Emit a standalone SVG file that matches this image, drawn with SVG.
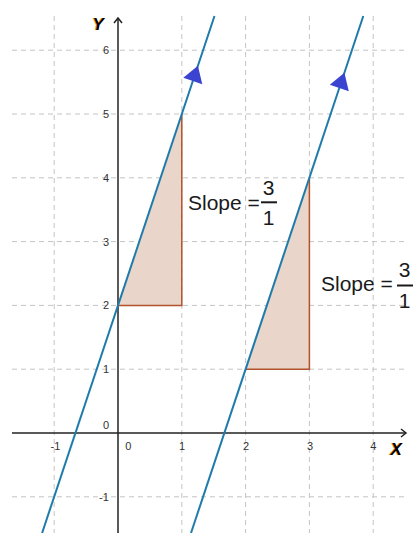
<svg xmlns="http://www.w3.org/2000/svg" width="415" height="533" viewBox="0 0 415 533">
<style>
.grid{stroke:#c4c4c4;stroke-width:1;stroke-dasharray:5 4;fill:none}
.axis{stroke:#222;stroke-width:1.5;fill:none}
.tick{font-family:"Liberation Sans",Arial,sans-serif;font-size:11px;fill:#333;text-anchor:middle}
.line{stroke:#1f7bab;stroke-width:2;fill:none}
.tri{fill:#e9d5ca;stroke:none}
.edge{stroke:#b0522a;stroke-width:1.5;fill:none}
.arrow{fill:#3a44d0}
.lbl{font-family:"Liberation Sans",Arial,sans-serif;font-size:21px;fill:#1a1a1a}
.frac{font-family:"Liberation Sans",Arial,sans-serif;font-size:21px;fill:#1a1a1a;text-anchor:middle}
.bar{stroke:#1a1a1a;stroke-width:2}
.axlbl{font-family:"Liberation Sans",Arial,sans-serif;font-size:17px;font-weight:bold;font-style:italic}
</style>
<rect width="415" height="533" fill="#ffffff"/>
<g id="grid">
<path class="grid" d="M12 496.8H408M12 369.2H408M12 305.4H408M12 241.6H408M12 177.8H408M12 114H408M12 50.2H408"/>
<path class="grid" d="M54.2 16V533M181.8 16V533M245.6 16V533M309.4 16V533M373.2 16V533"/>
</g>
<g id="triangle1">
<polygon class="tri" points="118,305.4 181.8,305.4 181.8,114"/>
<polyline class="edge" points="118,305.4 181.8,305.4 181.8,114"/>
</g>
<g id="triangle2">
<polygon class="tri" points="245.6,369.2 309.4,369.2 309.4,177.8"/>
<polyline class="edge" points="245.6,369.2 309.4,369.2 309.4,177.8"/>
</g>
<g id="axes">
<line class="axis" x1="12" y1="433" x2="405" y2="433" stroke="#333"/>
<polyline class="axis" points="401,429 406,433 401,437" stroke="#333"/>
<line class="axis" x1="118" y1="533" x2="118" y2="19"/>
<polyline class="axis" points="114,23 118,18 122,23"/>
<text class="axlbl" x="91.5" y="30" fill="#f08a00">Y</text>
<text class="axlbl" x="92.5" y="30" fill="#000">Y</text>
<text class="axlbl" x="389.5" y="455" fill="#f08a00">X</text>
<text class="axlbl" x="390.5" y="455" fill="#000">X</text>
</g>
<g id="ticks">
<text class="tick" x="106" y="54">6</text>
<text class="tick" x="106" y="118">5</text>
<text class="tick" x="106" y="181.8">4</text>
<text class="tick" x="106" y="245.6">3</text>
<text class="tick" x="106" y="309.4">2</text>
<text class="tick" x="106" y="373">1</text>
<text class="tick" x="106" y="429">0</text>
<text class="tick" x="104" y="500.8">-1</text>
<text class="tick" x="55.5" y="450">-1</text>
<text class="tick" x="128.3" y="450">0</text>
<text class="tick" x="182" y="450">1</text>
<text class="tick" x="246" y="450">2</text>
<text class="tick" x="310" y="450">3</text>
<text class="tick" x="373.3" y="450">4</text>
</g>
<g id="connectors">
<line class="line" x1="42.1" y1="533" x2="214.5" y2="16"/>
<line class="line" x1="191" y1="533" x2="363.3" y2="16"/>
<polygon class="arrow" points="197.9,65.8 183.3,77.8 202.3,84.2"/>
<polygon class="arrow" points="344.4,72.8 329.8,84.8 348.8,91.2"/>
</g>
<g id="label1">
<text class="lbl" x="188" y="210">Slope =</text>
<text class="frac" x="268.5" y="194.5">3</text>
<line class="bar" x1="261" y1="202.3" x2="277" y2="202.3"/>
<text class="frac" x="268.5" y="225">1</text>
</g>
<g id="label2">
<text class="lbl" x="321" y="291">Slope =</text>
<text class="frac" x="404.5" y="277">3</text>
<line class="bar" x1="397" y1="285.5" x2="413" y2="285.5"/>
<text class="frac" x="404.5" y="308">1</text>
</g>
</svg>
